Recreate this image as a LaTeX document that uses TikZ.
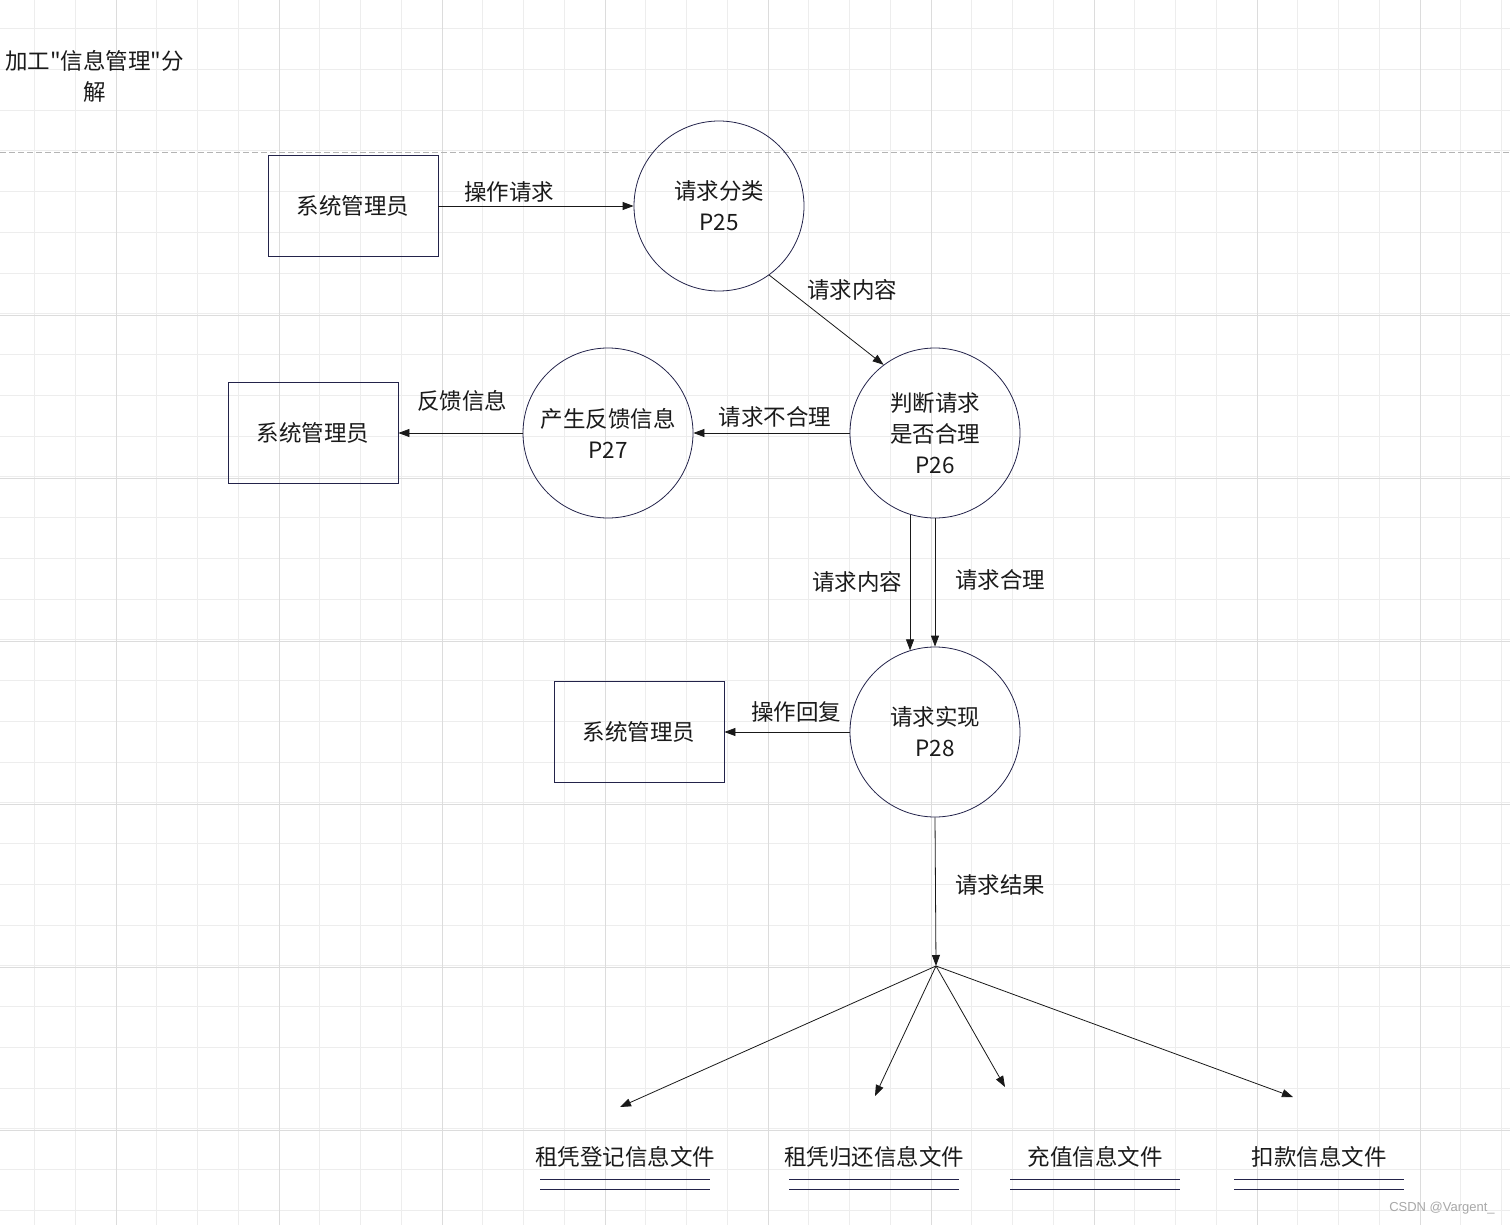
\documentclass[tikz,border=0pt]{standalone}
\usepackage{fontspec}
\setmainfont{Noto Sans CJK SC}[Ligatures=TeXOff]
\newfontfamily\wmfont{Liberation Sans}
\usetikzlibrary{arrows.meta}
\definecolor{gridminor}{HTML}{EDEDED}
\definecolor{gridmajor}{HTML}{DCDCDC}
\definecolor{dashgray}{HTML}{B4B4B4}
\definecolor{edge}{HTML}{23234A}
\definecolor{ink}{HTML}{1A1A1A}
\definecolor{wm}{HTML}{A8A8A8}
\begin{document}
\begin{tikzpicture}[x=1pt,y=-1pt,
  every node/.style={text=ink, font=\fontsize{22.5}{31}\selectfont},
  proc/.style={circle, draw=edge, line width=0.8pt, minimum size=170pt, inner sep=0pt, align=center},
  ent/.style={rectangle, draw=edge, line width=0.8pt, minimum width=170pt, minimum height=101pt, inner sep=0pt},
  arr/.style={draw=black!90, line width=0.8pt, -{Triangle[length=11pt,width=8pt]}},
  lbl/.style={inner sep=0pt},
  fileline/.style={draw=edge, line width=0.9pt},
  minorline/.style={draw=gridminor, line width=0.8pt},
  majorline/.style={draw=gridmajor, line width=0.8pt}]
\useasboundingbox (0,0) rectangle (1510,1225);
\fill[white] (0,0) rectangle (1510,1225);
% grid
\foreach \i in {0,...,36} \draw[minorline] ({34.5+\i*40.75},0) -- ({34.5+\i*40.75},1225);
\foreach \i in {0,...,29} \draw[minorline] (0,{28.5+\i*40.75}) -- (1510,{28.5+\i*40.75});
\foreach \i in {0,...,8} \draw[majorline] ({116+\i*163},0) -- ({116+\i*163},1225);
\foreach \i in {1,...,6} \draw[majorline] (0,{152+\i*163}) -- (1510,{152+\i*163});
\draw[dashgray, line width=0.8pt, dash pattern=on 6pt off 3pt] (0,152) -- (1510,152);
% title
\node[lbl] (title1) at (94.5,61) {加工"信息管理"分};
\node[lbl] (title2) at (95,92) {解};
% nodes
\node[ent] (e1) at (353,206) {系统管理员};
\node[proc] (p25) at (719,206) {请求分类\\P25};
\node[proc] (p26) at (935,433) {判断请求\\是否合理\\P26};
\node[proc] (p27) at (608,433) {产生反馈信息\\P27};
\node[ent] (e2) at (313,433) {系统管理员};
\node[proc] (p28) at (935,732) {请求实现\\P28};
\node[ent] (e3) at (639,732) {系统管理员};
% connectors
\draw[arr] (e1.east) -- (p25.west);
\draw[arr] (p25.-54) -- (p26.127);
\draw[arr] (p26.west) -- (p27.east);
\draw[arr] (p27.west) -- (e2.east);
\draw[arr] (p26.-107) -- (p28.107);
\draw[arr] (p26.south) -- (p28.north);
\draw[arr] (p28.west) -- (e3.east);
\coordinate (apex) at (936,966);
\draw[arr] (p28.south) -- (apex);
\coordinate (t1) at (620,1107);
\coordinate (t2) at (875,1096);
\coordinate (t3) at (1005,1087);
\coordinate (t4) at (1293,1097);
\foreach \t in {t1,t2,t3,t4} \draw[arr] (apex) -- (\t);
% labels
\node[lbl] (l1) at (509,192) {操作请求};
\node[lbl] (l2) at (852,290) {请求内容};
\node[lbl] (l3) at (775,417) {请求不合理};
\node[lbl] (l4) at (462,401) {反馈信息};
\node[lbl] (l5) at (857,582) {请求内容};
\node[lbl] (l6) at (1000,580) {请求合理};
\node[lbl] (l7) at (796,712) {操作回复};
\node[lbl] (l8) at (1000,885) {请求结果};
% files
\foreach \x/\txt/\nm in {625/租凭登记信息文件/f1, 874/租凭归还信息文件/f2, 1095/充值信息文件/f3, 1319/扣款信息文件/f4} {
  \node[lbl] (\nm) at (\x,1157) {\txt};
  \draw[fileline] (\x-85,1179) -- (\x+85,1179);
  \draw[fileline] (\x-85,1189) -- (\x+85,1189);
}
\node[lbl, text=wm, font=\wmfont\fontsize{13}{15}\selectfont] (wmk) at (1442,1208) {CSDN @Vargent\_};
\end{tikzpicture}
\end{document}
